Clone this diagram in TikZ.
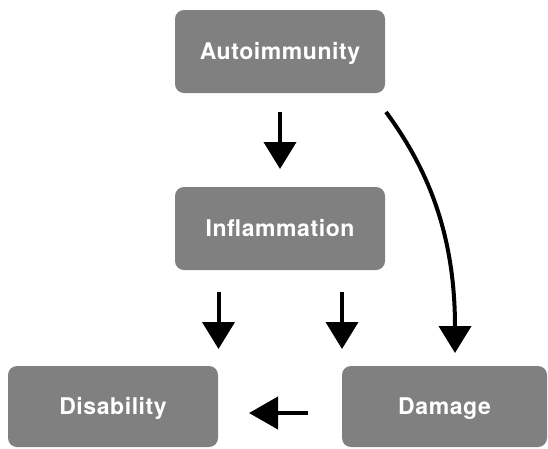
\documentclass[tikz,border=0pt]{standalone}
\usepackage{fontspec}
\newfontfamily\boxfont[LetterSpace=2.5]{TeX Gyre Heros}
\usetikzlibrary{arrows.meta}
\definecolor{boxgray}{HTML}{808080}
\begin{document}
\begin{tikzpicture}[x=1pt,y=-1pt,
  box/.style={fill=boxgray, draw=none, rounded corners=9pt, text=white,
    font=\boxfont\bfseries\fontsize{23}{27}\selectfont,
    text height=16pt, text depth=0pt, inner sep=0pt},
  arr/.style={line width=4pt, -{Triangle[width=32pt,length=27pt]}}]
\useasboundingbox (0,0) rectangle (548,448);
\node[box, minimum width=210pt, minimum height=83pt] (auto) at (280,51.5) {Autoimmunity};
\node[box, minimum width=210pt, minimum height=83pt] (infl) at (280,228.5) {Inflammation};
\node[box, minimum width=210pt, minimum height=81pt] (dis) at (113,406.5) {Disability};
\node[box, minimum width=205pt, minimum height=81pt] (dam) at (444.5,406.5) {Damage};
\coordinate (a1s) at (280,112);
\coordinate (a1e) at (280,169);
\coordinate (a2s) at (218.5,292);
\coordinate (a2e) at (218.5,349);
\coordinate (a3s) at (342,292);
\coordinate (a3e) at (342,349);
\coordinate (a4s) at (308,413);
\coordinate (a4e) at (249,413);
\coordinate (cs) at (386,112);
\coordinate (ce) at (455,353);
\draw[arr] (a1s) -- (a1e);
\draw[arr] (a2s) -- (a2e);
\draw[arr] (a3s) -- (a3e);
\draw[line width=4pt, -{Triangle[width=32pt,length=29pt]}] (a4s) -- (a4e);
\draw[arr] (cs) .. controls (425,165) and (455,230) .. (ce);
\end{tikzpicture}
\end{document}
